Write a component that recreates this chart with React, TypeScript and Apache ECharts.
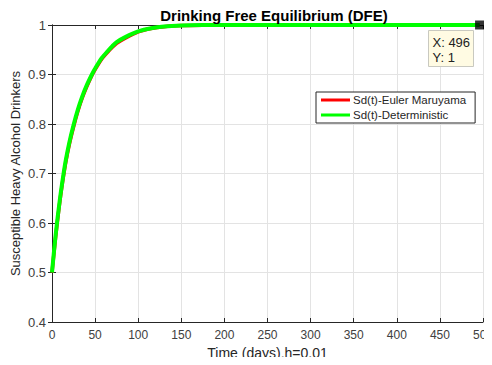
import React, { useEffect, useRef } from "react";
import * as echarts from "echarts";

// Time samples (days) and the susceptible heavy-drinker fraction at each
const timeDays = [0, 2, 4, 6, 8, 10, 13, 16, 20, 25, 30, 35, 40, 46, 50, 58, 65, 70, 75, 85, 100, 115, 130, 150, 175, 200, 300, 400, 496];
const sdEulerMaruyama = [0.5, 0.534, 0.568, 0.599, 0.628, 0.655, 0.691, 0.723, 0.758, 0.794, 0.826, 0.852, 0.874, 0.897, 0.91, 0.932, 0.946, 0.955, 0.963, 0.9735, 0.9862, 0.993, 0.9967, 0.9988, 0.9997, 1, 1, 1, 1];
const sdDeterministic = [0.5, 0.537, 0.572, 0.603, 0.632, 0.659, 0.695, 0.727, 0.762, 0.798, 0.829, 0.855, 0.877, 0.899, 0.912, 0.934, 0.948, 0.9575, 0.9655, 0.9755, 0.987, 0.9935, 0.997, 0.999, 0.9998, 1, 1, 1, 1];

// Data cursor placed on the last deterministic sample
const tipX = 496;
const tipY = 1;

const xTicks = { min: 0, max: 500, interval: 50 };
const yTicks = { min: 0.4, max: 1, interval: 0.1 };

const FONT = "'Liberation Sans', Arial, sans-serif";
const AXIS = "#262626";
const TICK_TEXT = "#404040";
const GRID = "#e3e3e3";

export default function App() {
  const ref = useRef<HTMLDivElement>(null);

  useEffect(() => {
    if (!ref.current) return;
    const chart = echarts.init(ref.current, undefined, { renderer: "svg" });

    const pairs = (ys: number[]) => timeDays.map((t, i) => [t, ys[i]]);

    const baseX = {
      type: "value",
      min: xTicks.min,
      max: xTicks.max,
      interval: xTicks.interval,
      axisLine: { show: true, lineStyle: { color: AXIS, width: 1 } },
      axisTick: { show: true, inside: true, length: 4, lineStyle: { color: AXIS } },
    };
    const baseY = {
      type: "value",
      min: yTicks.min,
      max: yTicks.max,
      interval: yTicks.interval,
      axisLine: { show: true, lineStyle: { color: AXIS, width: 1 } },
      axisTick: { show: true, inside: true, length: 4, lineStyle: { color: AXIS } },
    };

    chart.setOption({
      animation: false,
      backgroundColor: "#ffffff",
      title: {
        text: "Drinking Free Equilibrium (DFE)",
        left: 269,
        textAlign: "center",
        top: 3,
        textStyle: { fontFamily: FONT, fontSize: 15, fontWeight: "bold", color: "#000" },
      },
      grid: { left: 52, right: 9, top: 25, bottom: 43, outerBoundsMode: "none", containLabel: false },
      legend: {
        orient: "vertical",
        left: 316,
        top: 92,
        padding: [2, 9, 2, 5],
        itemGap: 3,
        itemWidth: 29,
        itemHeight: 3,
        icon: "rect",
        backgroundColor: "#ffffff",
        borderColor: AXIS,
        borderWidth: 1,
        borderRadius: 0,
        textStyle: { fontFamily: FONT, fontSize: 11.5, color: AXIS, padding: [0, 0, 0, -2] },
        data: ["Sd(t)-Euler Maruyama", "Sd(t)-Deterministic"],
      },
      xAxis: [
        {
          ...baseX,
          position: "bottom",
          name: "Time (days),h=0.01",
          nameLocation: "middle",
          nameGap: 31,
          nameMoveOverlap: false,
          nameTextStyle: { fontFamily: FONT, fontSize: 14, color: AXIS, verticalAlign: "middle" },
          axisLabel: { fontFamily: FONT, fontSize: 12, color: TICK_TEXT, margin: 7 },
          splitLine: { show: true, lineStyle: { color: GRID, width: 1 } },
        },
        {
          ...baseX,
          position: "top",
          axisLabel: { show: false },
          splitLine: { show: false },
        },
      ],
      yAxis: [
        {
          ...baseY,
          position: "left",
          name: "Susceptible Heavy Alcohol Drinkers",
          nameLocation: "middle",
          nameGap: 30,
          nameMoveOverlap: false,
          nameTextStyle: { fontFamily: FONT, fontSize: 13, color: AXIS },
          axisLabel: {
            fontFamily: FONT,
            fontSize: 13,
            color: TICK_TEXT,
            margin: 6,
            formatter: (v: number) => String(+v.toFixed(1)),
          },
          splitLine: { show: true, lineStyle: { color: GRID, width: 1 } },
        },
        {
          ...baseY,
          position: "right",
          axisLabel: { show: false },
          splitLine: { show: false },
        },
      ],
      series: [
        {
          name: "Sd(t)-Euler Maruyama",
          type: "line",
          data: pairs(sdEulerMaruyama),
          smooth: 0.25,
          showSymbol: false,
          itemStyle: { color: "#ff0000" },
          lineStyle: { color: "#ff0000", width: 3.5 },
        },
        {
          name: "Sd(t)-Deterministic",
          type: "line",
          data: pairs(sdDeterministic),
          smooth: 0.25,
          showSymbol: false,
          itemStyle: { color: "#00ff00" },
          lineStyle: { color: "#00ff00", width: 4 },
        },
        {
          name: "cursor",
          type: "scatter",
          data: [[tipX, tipY]],
          symbol: "rect",
          symbolSize: 9,
          clip: false,
          itemStyle: { color: "#000000" },
          z: 5,
        },
      ],
      graphic: [
        {
          type: "group",
          left: 428,
          top: 30,
          z: 100,
          children: [
            {
              type: "rect",
              z: 100,
              shape: { x: 0, y: 0, width: 45, height: 36 },
              style: { fill: "#fffbe3", stroke: "#c9c9c0", lineWidth: 1 },
            },
            {
              type: "text",
              z: 101,
              x: 4,
              y: 5,
              style: { text: `X: ${tipX}`, fontFamily: FONT, fontSize: 13, fill: "#222" },
            },
            {
              type: "text",
              z: 101,
              x: 4,
              y: 20,
              style: { text: `Y: ${tipY}`, fontFamily: FONT, fontSize: 13, fill: "#222" },
            },
          ],
        },
      ],
    });

    return () => chart.dispose();
  }, []);

  return <div ref={ref} style={{ width: 492, height: 365, margin: -8 }} />;
}
